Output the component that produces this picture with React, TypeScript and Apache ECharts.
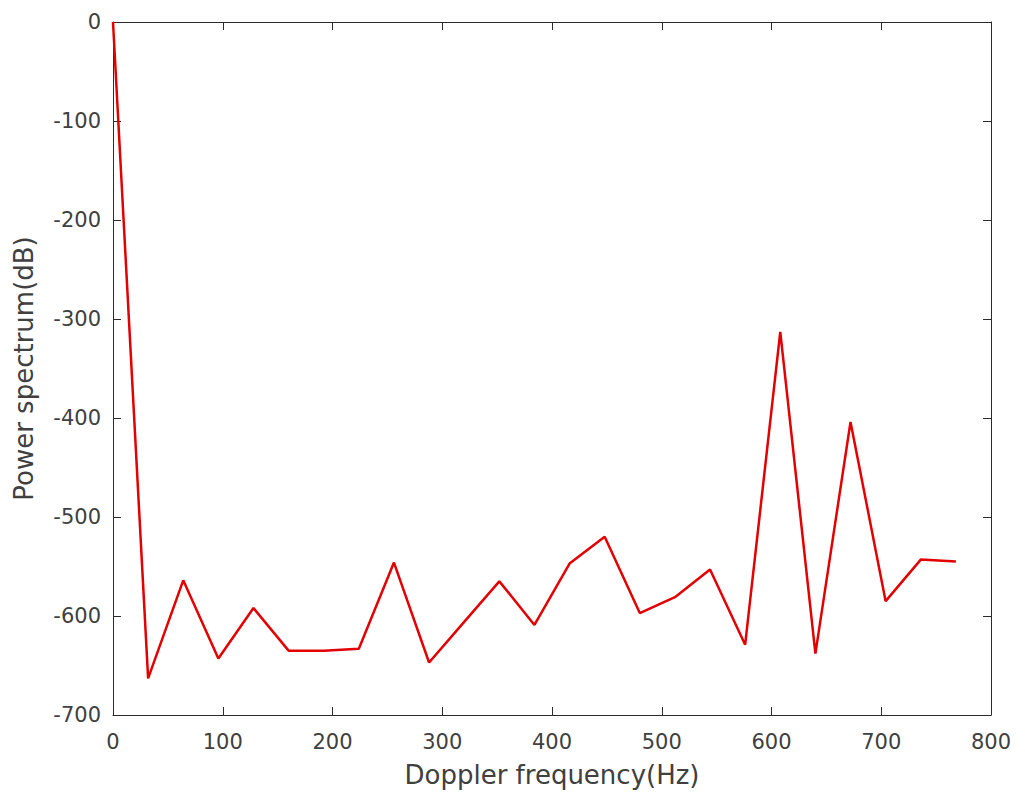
import React, { useEffect, useRef } from "react";
import * as echarts from "echarts";

const freqHz = [0, 32, 64, 96, 128, 160, 192, 224, 256, 288, 320, 352, 384, 416, 448, 480, 512, 544, 576, 608, 640, 672, 704, 736, 768];
const powerDb = [0, -663, -564, -643, -592, -635, -635, -633, -546, -647, -606, -565, -609, -547, -520, -597, -581, -553, -629, -313, -638, -404, -585, -543, -545];

const xTitle = "Doppler frequency(Hz)";
const yTitle = "Power spectrum(dB)";

const FONT = "DejaVu Sans";
const AXIS_COLOR = "#2b2b2b";
const LABEL_COLOR = "#404040";

const mkLine = () => ({ show: true, onZero: false, lineStyle: { color: AXIS_COLOR, width: 1 } });
const mkTick = () => ({ show: true, inside: true, length: 8, lineStyle: { color: AXIS_COLOR, width: 1 } });

export default function App() {
  const ref = useRef<HTMLDivElement>(null);
  useEffect(() => {
    if (!ref.current) return;
    const chart = echarts.init(ref.current, undefined, { renderer: "svg" });
    chart.setOption({
      animation: false,
      backgroundColor: "#ffffff",
      grid: { left: 113, right: 34, top: 22, bottom: 86, containLabel: false },
      xAxis: [
        {
          type: "value",
          min: 0,
          max: 800,
          interval: 100,
          position: "bottom",
          name: xTitle,
          nameLocation: "middle",
          nameGap: 47,
          nameTextStyle: { fontFamily: FONT, fontSize: 26, color: LABEL_COLOR },
          axisLine: mkLine(),
          axisTick: mkTick(),
          splitLine: { show: false },
          axisLabel: { fontFamily: FONT, fontSize: 21, color: LABEL_COLOR, margin: 16 },
        },
        {
          type: "value",
          min: 0,
          max: 800,
          interval: 100,
          position: "top",
          axisLine: mkLine(),
          axisTick: mkTick(),
          splitLine: { show: false },
          axisLabel: { show: false },
        },
      ],
      yAxis: [
        {
          type: "value",
          min: -700,
          max: 0,
          interval: 100,
          position: "left",
          name: yTitle,
          nameLocation: "middle",
          nameGap: 76,
          nameRotate: 90,
          nameTextStyle: { fontFamily: FONT, fontSize: 26, color: LABEL_COLOR },
          axisLine: mkLine(),
          axisTick: mkTick(),
          splitLine: { show: false },
          axisLabel: { fontFamily: FONT, fontSize: 21, color: LABEL_COLOR, margin: 12 },
        },
        {
          type: "value",
          min: -700,
          max: 0,
          interval: 100,
          position: "right",
          axisLine: mkLine(),
          axisTick: mkTick(),
          splitLine: { show: false },
          axisLabel: { show: false },
        },
      ],
      series: [
        {
          type: "line",
          data: freqHz.map((f, i) => [f, powerDb[i]]),
          xAxisIndex: 0,
          yAxisIndex: 0,
          showSymbol: false,
          symbol: "none",
          lineStyle: { color: "#e30000", width: 2.5 },
          clip: true,
        },
      ],
    });
    return () => chart.dispose();
  }, []);
  return <div ref={ref} style={{ width: 1025, height: 801, margin: -8 }} />;
}
